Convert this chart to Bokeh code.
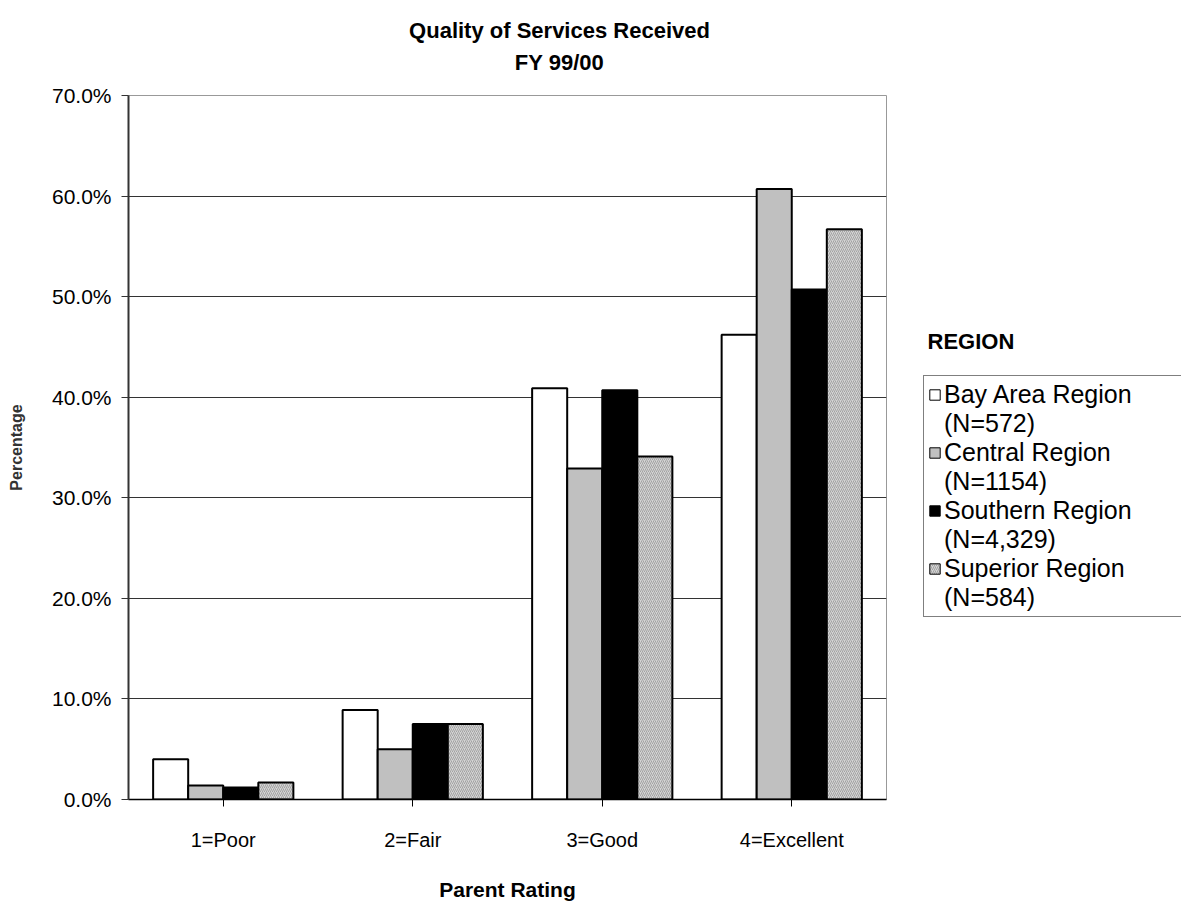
from bokeh.plotting import figure
from bokeh.layouts import column, row
from bokeh.models import (ColumnDataSource, FactorRange, Range1d, Legend, LegendItem,
                          Label, PrintfTickFormatter, SingleIntervalTicker)
from bokeh.transform import dodge
from bokeh.embed import file_html
from bokeh.resources import INLINE

categories = ["1=Poor", "2=Fair", "3=Good", "4=Excellent"]
series_names = ["Bay Area Region", "Central Region", "Southern Region", "Superior Region"]
series_counts = ["(N=572)", "(N=1154)", "(N=4,329)", "(N=584)"]
bay_area = [4.0, 8.9, 40.9, 46.2]
central = [1.4, 5.0, 32.9, 60.7]
southern = [1.2, 7.5, 40.7, 50.7]
superior = [1.7, 7.5, 34.1, 56.7]

FONT = "Liberation Sans"
src = ColumnDataSource(dict(cat=categories, bay=bay_area, cen=central, sou=southern, sup=superior))

def bare(fig):
    fig.xgrid.grid_line_color = None
    fig.ygrid.grid_line_color = None
    fig.outline_line_color = None
    fig.background_fill_color = "white"
    fig.border_fill_color = "white"
    fig.title = None

# ---- title strip ----
tf = figure(width=1181, height=80, x_range=Range1d(0, 1181), y_range=Range1d(80, 0),
            x_axis_location=None, y_axis_location=None, output_backend="svg",
            toolbar_location=None, min_border=0)
bare(tf)
tf.add_layout(Label(x=559, y=30, text="Quality of Services Received", text_font=FONT,
                    text_font_size="22px", text_font_style="bold", text_align="center",
                    text_baseline="middle", text_color="black"))
tf.add_layout(Label(x=559, y=62, text="FY 99/00", text_font=FONT,
                    text_font_size="22px", text_font_style="bold", text_align="center",
                    text_baseline="middle", text_color="black"))

# ---- main chart ----
p = figure(width=900, height=823, x_range=FactorRange(factors=categories, range_padding=0),
           y_range=Range1d(0, 70), output_backend="svg", toolbar_location=None,
           min_border_left=128, min_border_right=14, min_border_top=15, min_border_bottom=98)
p.title = None
p.background_fill_color = "white"
p.border_fill_color = "white"
p.outline_line_color = "#999999"
p.outline_line_width = 1

w = 0.185
cols = ["bay", "cen", "sou", "sup"]
offsets = [-1.5 * w, -0.5 * w, 0.5 * w, 1.5 * w]
styles = [dict(fill_color="white"), dict(fill_color="#c0c0c0"), dict(fill_color="black"),
          dict(fill_color="#d4d4d4", hatch_pattern="/", hatch_color="#8c8c8c",
               hatch_scale=4, hatch_weight=0.7)]
for c, off, st in zip(cols, offsets, styles):
    p.vbar(x=dodge("cat", off, range=p.x_range), top=c, width=w, source=src,
           line_color="black", line_width=2, **st)

p.yaxis.ticker = SingleIntervalTicker(interval=10)
p.yaxis.formatter = PrintfTickFormatter(format="%.1f%%")
p.yaxis.major_label_text_font = FONT
p.yaxis.major_label_text_font_size = "21px"
p.yaxis.major_label_text_color = "black"
p.yaxis.major_tick_out = 7
p.yaxis.major_tick_in = 0
p.yaxis.minor_tick_line_color = None
p.yaxis.major_label_standoff = 10
p.yaxis.axis_line_color = "#333333"
p.yaxis.axis_line_width = 2
p.yaxis.major_tick_line_color = "#333333"
p.yaxis.axis_label = "Percentage"
p.yaxis.axis_label_text_font = FONT
p.yaxis.axis_label_text_font_style = "bold"
p.yaxis.axis_label_text_font_size = "16px"
p.yaxis.axis_label_text_color = "#333333"
p.yaxis.axis_label_standoff = 24

p.xaxis.major_label_text_font = FONT
p.xaxis.major_label_text_font_size = "20px"
p.xaxis.major_label_text_color = "black"
p.xaxis.major_tick_out = 7
p.xaxis.major_tick_in = 0
p.xaxis.major_label_standoff = 22
p.xaxis.axis_line_color = "black"
p.xaxis.axis_line_width = 1.5
p.xaxis.major_tick_line_color = "black"
p.xaxis.axis_label = "Parent Rating"
p.xaxis.axis_label_text_font = FONT
p.xaxis.axis_label_text_font_style = "bold"
p.xaxis.axis_label_text_font_size = "21px"
p.xaxis.axis_label_text_color = "black"
p.xaxis.axis_label_standoff = 24

p.xgrid.grid_line_color = None
p.ygrid.grid_line_color = "#333333"
p.ygrid.grid_line_width = 1

# ---- legend panel (same vertical borders as the chart; y measured downward) ----
lf = figure(width=281, height=823, x_range=Range1d(900, 1181), y_range=Range1d(805, 95),
            x_axis_location=None, y_axis_location=None, output_backend="svg",
            toolbar_location=None, min_border_left=0, min_border_right=0,
            min_border_top=15, min_border_bottom=98)
bare(lf)
# legend-key renderers: same series data, hidden in this panel
keys = [lf.vbar(x=c, top=c, width=1, source=src, line_color="black", line_width=1,
                visible=False, **st)
        for c, st in zip(cols, styles)]
blank = lf.vbar(x="bay", top="bay", width=1, source=src, fill_alpha=0, line_alpha=0,
                visible=False)
lf.add_layout(Label(x=927, y=343, text="REGION", text_font=FONT,
                    text_font_size="22px", text_font_style="bold", text_align="left",
                    text_baseline="middle", text_color="black"))
items = []
for name, cnt, r in zip(series_names, series_counts, keys):
    items.append(LegendItem(label=name, renderers=[r]))
    items.append(LegendItem(label=cnt, renderers=[blank]))
legend = Legend(items=items, location=(23, 182), orientation="vertical")
legend.label_text_font = FONT
legend.label_text_font_size = "25px"
legend.label_text_color = "black"
legend.label_height = 29
legend.glyph_width = 13
legend.glyph_height = 13
legend.label_standoff = 3
legend.spacing = 0
legend.padding = 4
legend.margin = 0
legend.label_width = 260
legend.border_line_color = "black"
legend.border_line_width = 1
legend.background_fill_color = "white"
legend.background_fill_alpha = 1
lf.add_layout(legend, "center")

layout = column(tf, row(p, lf, spacing=0), spacing=0)
open("out.html", "w").write(file_html(layout, INLINE))
